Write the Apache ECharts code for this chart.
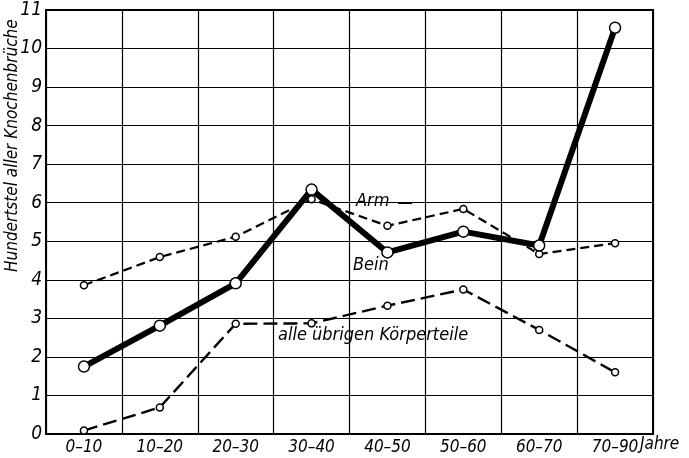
<!DOCTYPE html>
<html><head><meta charset="utf-8">
<script src="https://cdn.jsdelivr.net/npm/echarts@6/dist/echarts.min.js"></script>
<style>html,body{margin:0;padding:0;background:#fff}#c{width:689px;height:458px}</style>
</head><body><div id="c"></div>
<script>
const categories = ['0–10','10–20','20–30','30–40','40–50','50–60','60–70','70–90'];
const bein = [1.75, 2.81, 3.91, 6.34, 4.71, 5.25, 4.89, 10.54];
const arm = [3.86, 4.59, 5.12, 6.09, 5.40, 5.84, 4.67, 4.95];
const uebrige = [0.09, 0.69, 2.86, 2.87, 3.33, 3.75, 2.70, 1.60];
const yTicks = [0,1,2,3,4,5,6,7,8,9,10,11];

const FONT = '"DejaVu Sans Condensed", "DejaVu Sans", sans-serif';
const chart = echarts.init(document.getElementById('c'));
chart.setOption({
  animation: false,
  backgroundColor: '#fff',
  grid: {left: 46, right: 36, top: 10, bottom: 24, show: true, borderColor: '#000', borderWidth: 2},
  xAxis: {
    type: 'category', data: categories, boundaryGap: true,
    axisLine: {lineStyle: {color: '#000', width: 2}},
    axisTick: {show: false},
    axisLabel: {color: '#000', fontFamily: FONT, fontStyle: 'italic', fontSize: 17, margin: 5},
    splitLine: {show: true, interval: 0, lineStyle: {color: '#000', width: 1.2}}
  },
  yAxis: {
    type: 'value', min: 0, max: 11, interval: 1,
    axisLine: {show: true, lineStyle: {color: '#000', width: 2}},
    axisTick: {show: false},
    axisLabel: {color: '#000', fontFamily: FONT, fontStyle: 'italic', fontSize: 19, margin: 4,
      formatter: v => yTicks.includes(v) ? String(v) : ''},
    splitLine: {lineStyle: {color: '#000', width: 1.2}}
  },
  series: [
    {name: 'Arm', type: 'line', data: arm, symbol: 'circle', symbolSize: 7,
      lineStyle: {color: '#000', width: 2.2, type: [9, 5]},
      itemStyle: {color: '#fff', borderColor: '#000', borderWidth: 1.5}, z: 3},
    {name: 'übrige', type: 'line', data: uebrige, symbol: 'circle', symbolSize: 7,
      lineStyle: {color: '#000', width: 2.4, type: [14, 6]},
      itemStyle: {color: '#fff', borderColor: '#000', borderWidth: 1.5}, z: 3},
    {name: 'Bein', type: 'line', data: bein, symbol: 'circle', symbolSize: 11,
      lineStyle: {color: '#000', width: 6},
      itemStyle: {color: '#fff', borderColor: '#000', borderWidth: 1.5}, z: 4}
  ],
  graphic: [
    {type: 'text', left: 640, top: 436, style: {text: 'Jahre', font: 'italic 17px ' + FONT, fill: '#000'}},
    {type: 'text', x: 4, y: 272, rotation: Math.PI / 2,
      style: {text: 'Hundertstel aller Knochenbrüche', font: 'italic 17px ' + FONT, fill: '#000'}},
    {type: 'text', left: 356, top: 192, style: {text: 'Arm', font: 'italic 18px ' + FONT, fill: '#000', backgroundColor: '#fff'}},
    {type: 'line', shape: {x1: 398, y1: 203, x2: 412, y2: 203}, style: {stroke: '#000', lineWidth: 2}},
    {type: 'text', left: 353, top: 256, style: {text: 'Bein', font: 'italic 18px ' + FONT, fill: '#000'}},
    {type: 'text', left: 278, top: 326, style: {text: 'alle übrigen Körperteile', font: 'italic 18px ' + FONT, fill: '#000', backgroundColor: '#fff'}}
  ]
});
</script></body></html>
